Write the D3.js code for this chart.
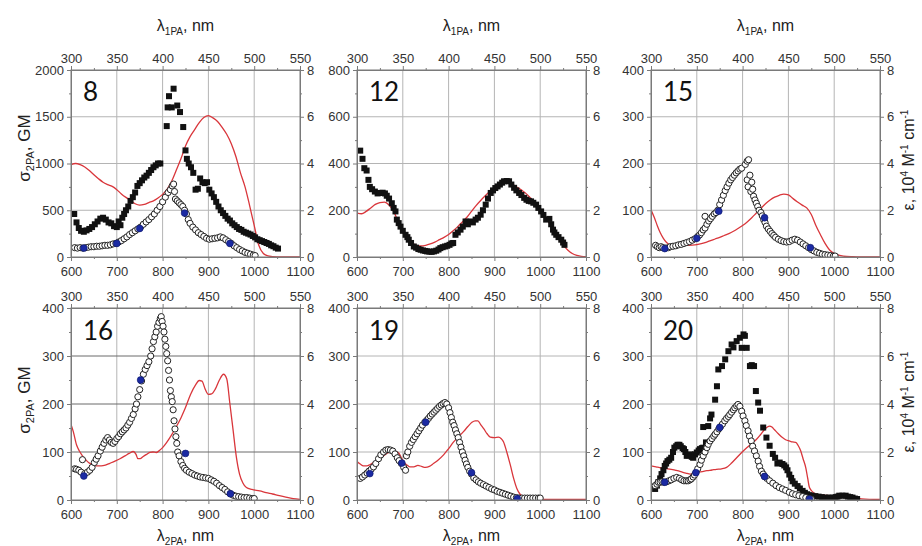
<!DOCTYPE html>
<html>
<head>
<meta charset="utf-8">
<script src="https://cdn.jsdelivr.net/npm/d3@7/dist/d3.min.js"></script>
<style>
  body { margin: 0; background: #fff; }
  text { font-family: "Liberation Sans", Arial, sans-serif; }
</style>
</head>
<body>
<svg id="chart" width="922" height="546"></svg>
<script>
// x: lambda 2PA (nm); squares / circles / blue: sigma 2PA (GM); abs: epsilon (10^4 M-1 cm-1)
var xTicks = [600, 700, 800, 900, 1000, 1100];
var xTopTicks = [300, 350, 400, 450, 500, 550];
var yRightTicks = [0, 2, 4, 6, 8];
var labels = ["8", "12", "15", "16", "19", "20"];
var yMaxes = [2000, 800, 400, 400, 400, 400];

var abs8 = [[600,3.95],[610,4.0],[620,3.95],[630,3.85],[640,3.7],[650,3.52],[660,3.35],[670,3.2],[680,3.1],[690,3.02],[700,2.88],[710,2.7],[720,2.55],[730,2.42],[740,2.28],[750,2.22],[760,2.25],[770,2.33],[780,2.4],[790,2.52],[800,2.68],[810,2.9],[820,3.25],[830,3.72],[840,4.2],[850,4.75],[860,5.15],[870,5.45],[880,5.75],[890,5.97],[900,6.05],[910,5.95],[920,5.8],[930,5.55],[940,5.25],[950,4.85],[960,4.3],[970,3.6],[980,3.0],[990,2.2],[1000,1.35],[1010,0.5],[1020,0.15],[1030,0.05],[1050,0],[1100,0]];
var sq8 = [[607,460],[612,370],[617,310],[622,280],[628,270],[634,285],[640,300],[646,320],[652,350],[658,380],[664,410],[670,420],[676,400],[682,370],[688,360],[694,330],[700,320],[704,380],[708,340],[712,420],[716,460],[720,500],[725,540],[730,600],[735,640],[740,690],[745,760],[750,790],[755,820],[760,850],[765,870],[770,900],[775,930],[780,960],[785,980],[790,1000],[795,1000],[809,1400],[811,1600],[814,1720],[820,1600],[824,1800],[832,1620],[838,1550],[845,1390],[850,1140],[853,1050],[857,1000],[862,960],[867,900],[872,720],[877,730],[882,840],[887,800],[892,790],[897,800],[902,720],[907,680],[912,640],[917,590],[922,540],[927,500],[932,470],[937,440],[942,410],[947,390],[952,360],[957,340],[962,320],[967,300],[972,290],[977,270],[982,260],[987,250],[992,240],[997,225],[1002,210],[1007,190],[1012,180],[1017,170],[1022,160],[1027,150],[1032,140],[1037,125],[1042,115],[1047,100],[1052,90]];
var circ8 = [[608,100],[614,95],[620,100],[626,95],[632,100],[638,105],[644,110],[650,110],[656,115],[662,115],[668,120],[674,125],[680,125],[686,130],[692,140],[698,145],[704,160],[710,175],[716,195],[722,215],[728,240],[734,260],[740,280],[746,300],[752,320],[758,350],[764,375],[770,400],[776,430],[782,460],[788,500],[794,540],[800,590],[806,640],[812,690],[817,720],[821,760],[824,780],[826,700],[828,620],[832,600],[836,580],[840,560],[844,540],[848,500],[852,460],[856,400],[860,360],[866,320],[872,290],[878,260],[884,240],[890,220],[896,200],[902,190],[908,195],[914,200],[920,205],[926,215],[932,205],[938,185],[944,165],[950,145],[956,120],[962,100],[968,80],[974,65],[980,50],[986,40],[992,30],[998,20],[1002,15]];
var blue8 = [[628,95],[700,145],[750,305],[848,470],[947,145]];

var abs12 = [[600,1.88],[610,1.85],[620,1.95],[630,2.1],[640,2.25],[650,2.33],[660,2.35],[670,2.22],[680,1.95],[690,1.5],[700,1.05],[710,0.78],[720,0.6],[730,0.5],[740,0.47],[750,0.5],[760,0.56],[770,0.64],[780,0.74],[790,0.84],[800,0.96],[810,1.12],[820,1.3],[830,1.5],[840,1.7],[850,1.95],[860,2.2],[870,2.42],[880,2.62],[890,2.8],[900,2.95],[910,3.08],[920,3.17],[930,3.18],[940,3.1],[950,2.98],[960,2.85],[970,2.7],[980,2.5],[990,2.3],[1000,2.05],[1010,1.75],[1020,1.45],[1030,1.1],[1040,0.78],[1050,0.52],[1060,0.3],[1070,0.15],[1080,0.07],[1090,0.03],[1100,0.02]];
var sq12 = [[607,455],[612,420],[616,380],[621,370],[625,330],[628,300],[633,290],[639,280],[645,272],[650,274],[656,275],[661,272],[665,262],[670,250],[676,230],[680,210],[684,195],[687,160],[691,145],[695,130],[700,112],[706,95],[710,85],[713,74],[718,60],[724,45],[729,40],[734,34],[739,31],[744,28],[749,26],[753,24],[758,23],[763,22],[768,24],[773,27],[778,32],[782,38],[787,42],[792,45],[797,48],[802,52],[806,58],[810,60],[815,95],[820,105],[826,117],[831,130],[837,152],[842,140],[848,152],[853,148],[859,160],[864,168],[870,181],[875,200],[881,224],[886,250],[892,274],[897,285],[902,295],[907,302],[912,310],[917,318],[921,324],[927,325],[932,324],[937,310],[943,296],[948,285],[954,274],[959,265],[965,253],[970,245],[975,240],[980,238],[985,232],[991,224],[996,210],[1002,195],[1007,180],[1013,160],[1020,163],[1024,140],[1028,117],[1031,105],[1035,95],[1040,85],[1046,74],[1050,62],[1053,52]];

var abs15 = [[600,2.02],[607,1.7],[614,1.33],[620,1.05],[627,0.8],[634,0.62],[642,0.52],[650,0.48],[660,0.48],[670,0.49],[680,0.5],[690,0.51],[700,0.53],[710,0.57],[720,0.63],[730,0.7],[740,0.77],[750,0.84],[760,0.92],[770,1.0],[780,1.1],[790,1.22],[800,1.35],[810,1.5],[820,1.68],[830,1.88],[840,2.08],[850,2.28],[860,2.44],[870,2.56],[880,2.64],[890,2.69],[900,2.66],[910,2.5],[920,2.35],[930,2.22],[940,2.1],[950,1.82],[960,1.35],[970,0.95],[980,0.58],[990,0.3],[1000,0.15],[1010,0.08],[1020,0.04],[1040,0.01],[1060,0],[1100,0]];
var circ15 = [[610,25],[614,22],[618,20],[622,22],[626,20],[632,19],[638,20],[642,22],[648,23],[654,24],[660,26],[666,27],[672,29],[678,31],[684,33],[690,36],[696,39],[702,44],[706,47],[710,52],[714,58],[718,62],[718,87],[722,70],[726,77],[730,82],[734,87],[738,92],[742,95],[746,100],[750,112],[754,122],[758,132],[762,142],[766,150],[770,158],[774,165],[778,170],[782,175],[786,180],[790,184],[794,188],[798,190],[806,198],[810,205],[813,208],[810,165],[812,150],[816,175],[820,160],[818,140],[822,145],[824,130],[827,122],[830,115],[833,108],[836,100],[840,95],[843,88],[846,80],[849,74],[852,66],[856,60],[860,55],[864,50],[868,46],[872,42],[878,38],[884,35],[890,33],[896,32],[902,33],[908,36],[914,38],[920,36],[926,32],[932,28],[938,24],[944,20],[950,16],[956,13],[962,10],[968,8],[974,6],[980,5],[986,4],[992,3],[998,2],[1002,2]];
var blue15 = [[630,18],[700,40],[748,98],[848,84],[948,20]];

var abs16 = [[600,3.15],[605,2.85],[612,2.3],[618,2.05],[625,1.84],[632,1.68],[639,1.55],[648,1.47],[657,1.42],[666,1.42],[675,1.45],[685,1.53],[696,1.62],[707,1.72],[718,1.84],[727,1.94],[736,2.02],[742,1.9],[746,1.72],[751,1.72],[757,1.8],[765,1.9],[772,1.98],[779,2.0],[786,1.98],[793,2.06],[800,2.18],[809,2.4],[818,2.66],[829,3.02],[840,3.42],[850,3.85],[861,4.4],[872,4.8],[880,4.98],[886,4.95],[893,4.62],[900,4.4],[907,4.42],[915,4.62],[924,5.0],[933,5.24],[940,5.05],[947,4.0],[954,2.9],[961,1.8],[968,1.08],[975,0.72],[983,0.52],[995,0.44],[1012,0.38],[1026,0.31],[1040,0.25],[1055,0.18],[1069,0.12],[1085,0.06],[1100,0.03]];
var circ16 = [[608,65],[612,64],[617,62],[622,58],[625,84],[630,55],[636,58],[641,62],[646,68],[651,78],[655,85],[659,92],[664,102],[668,110],[672,118],[676,125],[680,130],[684,125],[688,120],[692,118],[696,122],[700,128],[704,132],[708,138],[712,142],[716,146],[720,150],[724,156],[728,162],[732,170],[736,178],[740,190],[743,200],[746,215],[750,230],[754,248],[758,262],[762,272],[766,280],[770,288],[774,300],[777,315],[780,330],[783,340],[786,350],[789,362],[792,370],[795,378],[797,382],[799,372],[801,362],[803,350],[805,335],[807,320],[809,305],[811,290],[813,270],[815,250],[817,228],[819,215],[821,205],[823,188],[825,165],[827,148],[829,132],[831,118],[833,100],[836,92],[840,80],[844,72],[848,66],[852,62],[858,58],[864,55],[870,52],[876,50],[882,48],[888,47],[894,46],[900,45],[906,42],[912,39],[918,35],[924,30],[930,26],[936,22],[942,17],[948,13],[954,10],[960,8],[966,7],[972,6],[978,5],[984,5],[990,4],[996,3],[1000,3]];
var blue16 = [[628,50],[752,250],[850,97],[948,13]];

var abs19 = [[600,1.6],[607,1.5],[614,1.42],[621,1.42],[629,1.48],[636,1.56],[644,1.64],[651,1.72],[658,1.84],[665,1.94],[672,2.0],[680,2.04],[686,2.02],[691,1.96],[697,1.76],[702,1.58],[709,1.46],[716,1.38],[724,1.38],[733,1.44],[741,1.4],[749,1.36],[758,1.4],[767,1.52],[778,1.68],[789,1.88],[800,2.14],[811,2.42],[822,2.64],[833,2.86],[842,3.06],[851,3.24],[858,3.3],[864,3.3],[870,3.14],[877,2.96],[884,2.76],[891,2.62],[900,2.6],[909,2.62],[915,2.55],[920,2.42],[927,2.0],[935,1.44],[942,0.9],[949,0.48],[956,0.24],[964,0.12],[975,0.06],[990,0.04],[1020,0.03],[1100,0.03]];
var circ19 = [[607,45],[612,48],[617,52],[622,56],[626,60],[631,64],[636,69],[641,76],[647,86],[652,94],[658,100],[663,104],[668,105],[673,104],[678,102],[683,96],[688,88],[692,82],[697,76],[702,68],[706,62],[708,92],[711,100],[715,112],[719,120],[723,126],[727,132],[731,138],[735,144],[739,150],[743,156],[748,162],[752,166],[756,170],[760,175],[764,179],[768,183],[772,187],[776,191],[780,195],[784,198],[788,201],[792,203],[796,200],[800,192],[803,182],[806,172],[809,162],[812,155],[815,146],[818,138],[821,130],[824,120],[827,110],[830,100],[833,92],[836,83],[839,75],[842,68],[846,60],[850,54],[855,46],[860,42],[865,38],[870,35],[876,32],[882,29],[888,26],[894,23],[900,21],[906,18],[912,16],[918,14],[924,12],[930,10],[936,8],[942,6],[948,5],[954,4],[960,4],[966,4],[972,4],[978,4],[984,4],[990,4],[996,4],[1000,4]];
var blue19 = [[628,55],[698,77],[750,162],[850,57],[950,3]];

var abs20 = [[600,1.42],[611,1.38],[622,1.34],[633,1.31],[644,1.28],[655,1.23],[665,1.18],[676,1.12],[686,1.08],[693,1.1],[700,1.14],[711,1.18],[722,1.22],[733,1.25],[743,1.28],[754,1.3],[765,1.36],[776,1.54],[787,1.76],[798,1.98],[809,2.18],[820,2.36],[830,2.52],[839,2.72],[848,2.94],[854,3.04],[859,3.08],[864,3.04],[869,2.94],[878,2.76],[887,2.6],[895,2.5],[902,2.46],[909,2.42],[916,2.4],[921,2.28],[927,2.04],[932,1.72],[938,1.34],[942,0.92],[946,0.52],[953,0.34],[960,0.24],[975,0.2],[989,0.18],[1010,0.14],[1032,0.1],[1060,0.05],[1100,0.02]];
var sq20 = [[609,23],[613,30],[616,37],[620,45],[623,54],[627,62],[630,71],[633,76],[636,81],[640,84],[644,88],[648,100],[651,109],[655,112],[658,115],[662,115],[665,112],[669,108],[672,106],[675,100],[678,92],[682,93],[686,95],[689,90],[692,88],[696,95],[700,99],[704,103],[707,106],[711,108],[714,109],[714,152],[720,120],[725,154],[729,170],[732,178],[740,209],[744,237],[747,272],[755,279],[762,293],[769,310],[776,324],[780,318],[787,331],[794,338],[798,317],[802,345],[805,342],[809,317],[816,279],[820,281],[825,279],[829,227],[834,203],[838,186],[845,151],[852,130],[859,113],[866,96],[871,88],[876,76],[881,78],[887,75],[891,72],[895,68],[898,62],[902,53],[906,46],[909,39],[914,34],[920,29],[925,24],[931,19],[936,15],[941,12],[946,10],[952,9],[959,8],[966,7],[973,6],[981,5],[988,5],[996,5],[1003,6],[1007,7],[1011,9],[1018,9],[1025,9],[1030,7],[1035,6],[1040,5],[1045,3],[1050,2]];
var circ20 = [[609,30],[613,33],[616,37],[620,37],[624,38],[628,37],[634,38],[639,40],[644,42],[650,45],[656,47],[662,45],[667,42],[672,40],[677,40],[681,40],[685,42],[688,44],[692,48],[695,52],[698,57],[702,65],[707,74],[710,83],[714,92],[718,100],[722,109],[725,116],[729,123],[733,128],[737,133],[740,137],[744,142],[748,148],[752,153],[756,158],[761,165],[765,170],[769,174],[772,178],[776,183],[780,188],[783,192],[787,196],[790,199],[794,195],[798,185],[801,175],[805,165],[808,155],[812,144],[815,133],[819,123],[822,112],[826,102],[830,92],[834,81],[837,70],[841,60],[845,54],[848,49],[853,45],[859,40],[866,35],[873,30],[880,26],[887,23],[894,20],[902,16],[909,13],[916,11],[923,9],[931,7],[938,5],[945,3],[950,2]];
var blue20 = [[630,37],[698,57],[750,151],[848,49],[946,2]];

var absSets = [abs8, abs12, abs15, abs16, abs19, abs20];
var sqSets = [sq8, sq12, [], [], [], sq20];
var circSets = [circ8, [], circ15, circ16, circ19, circ20];
var blueSets = [blue8, [], blue15, blue16, blue19, blue20];

// layout
var colX = [71, 357, 651], colW = 229;
var rowY = [70, 308], rowH = [187, 192];

var svg = d3.select("#chart");
var fmt = d3.format("d");

labels.forEach(function(lab, i) {
    var col = i % 3, row = Math.floor(i / 3);
    var w = colW, h = rowH[row];
    var g = svg.append("g").attr("transform", "translate(" + colX[col] + "," + rowY[row] + ")");

    var x = d3.scaleLinear().domain([600, 1100]).range([0, w]);
    var xTop = d3.scaleLinear().domain([300, 550]).range([0, w]);
    var y = d3.scaleLinear().domain([0, yMaxes[i]]).range([h, 0]);
    var yR = d3.scaleLinear().domain([0, 8]).range([h, 0]);
    var step = yMaxes[i] / 4;
    var yTicks = d3.range(0, yMaxes[i] + 1, step);

    // grid
    g.selectAll(".vg").data([700, 800, 900, 1000]).enter().append("line")
        .attr("x1", x).attr("x2", x).attr("y1", 0).attr("y2", h)
        .attr("stroke", "#b4b4b4").attr("stroke-width", 1);
    g.selectAll(".hg").data(yTicks.slice(1, -1)).enter().append("line")
        .attr("y1", y).attr("y2", y).attr("x1", 0).attr("x2", w)
        .attr("stroke", i == 3 ? "#6a6a6a" : "#b4b4b4").attr("stroke-width", 1);

    // clip
    var cid = "clip" + i;
    g.append("clipPath").attr("id", cid).append("rect").attr("width", w).attr("height", h);
    var plot = g.append("g").attr("clip-path", "url(#" + cid + ")");

    var line = d3.line().x(function(d) { return x(d[0]); }).y(function(d) { return yR(d[1]); })
        .curve(d3.curveMonotoneX);
    plot.append("path").datum(absSets[i]).attr("d", line)
        .attr("fill", "none").attr("stroke", "#d9363b").attr("stroke-width", 1.3);

    plot.selectAll(".sq").data(sqSets[i]).enter().append("rect")
        .attr("x", function(d) { return x(d[0]) - 3; })
        .attr("y", function(d) { return y(d[1]) - 3; })
        .attr("width", 6).attr("height", 6).attr("fill", "#111");

    plot.selectAll(".ci").data(circSets[i]).enter().append("circle")
        .attr("cx", function(d) { return x(d[0]); })
        .attr("cy", function(d) { return y(d[1]); })
        .attr("r", 3.1).attr("fill", "#fff").attr("stroke", "#222").attr("stroke-width", 1);

    plot.selectAll(".bl").data(blueSets[i]).enter().append("circle")
        .attr("cx", function(d) { return x(d[0]); })
        .attr("cy", function(d) { return y(d[1]); })
        .attr("r", 3.4).attr("fill", "#1b2aa3").attr("stroke", "#0c176b").attr("stroke-width", 0.6);

    // axes
    function style(sel) {
        sel.selectAll("path").attr("stroke", "#7a7a7a");
        sel.selectAll("line").attr("stroke", "#7a7a7a");
        sel.selectAll("text").attr("fill", "#333").style("font-size", "13px")
            .style("font-family", '"Liberation Sans", Arial, sans-serif');
    }
    var ax = g.append("g").attr("transform", "translate(0," + h + ")")
        .call(d3.axisBottom(x).tickValues(xTicks).tickFormat(fmt).tickSize(4).tickSizeOuter(0));
    ax.selectAll("text").attr("y", 10);
    style(ax);
    g.append("g").attr("transform", "translate(0," + h + ")")
        .call(d3.axisBottom(x).tickValues([650, 750, 850, 950, 1050]).tickSize(2).tickFormat("").tickSizeOuter(0))
        .call(style);

    g.append("g").call(d3.axisTop(xTop).tickValues(xTopTicks).tickFormat(fmt).tickSize(4).tickSizeOuter(0)).call(style);
    g.append("g").call(d3.axisTop(xTop).tickValues([325, 375, 425, 475, 525]).tickSize(2).tickFormat("").tickSizeOuter(0)).call(style);

    g.append("g").call(d3.axisLeft(y).tickValues(yTicks).tickFormat(fmt).tickSize(4).tickSizeOuter(0)).call(style);
    g.append("g").call(d3.axisLeft(y).tickValues(yTicks.slice(0, -1).map(function(v) { return v + step / 2; }))
        .tickSize(2).tickFormat("").tickSizeOuter(0)).call(style);

    g.append("g").attr("transform", "translate(" + w + ",0)")
        .call(d3.axisRight(yR).tickValues(yRightTicks).tickFormat(fmt).tickSize(4).tickSizeOuter(0)).call(style);
    g.append("g").attr("transform", "translate(" + w + ",0)")
        .call(d3.axisRight(yR).tickValues([1, 3, 5, 7]).tickSize(2).tickFormat("").tickSizeOuter(0)).call(style);

    // frame
    g.append("rect").attr("width", w).attr("height", h)
        .attr("fill", "none").attr("stroke", "#7a7a7a").attr("stroke-width", 1);

    // panel number
    g.append("text").attr("x", 12).attr("y", row == 0 ? 31 : 32)
        .style("font-family", "Lato, 'Open Sans', sans-serif").style("font-size", "26px")
        .attr("fill", "#111").text(lab);
});

// axis titles
function lambdaTitle(xc, yc, sub) {
    var t = svg.append("text").attr("x", xc).attr("y", yc).attr("text-anchor", "middle")
        .style("font-size", "16px").attr("fill", "#222");
    t.append("tspan").text("\u03bb");
    t.append("tspan").attr("dy", 4).style("font-size", "10px").text(sub);
    t.append("tspan").attr("dy", -4).text(", nm");
}
for (var c = 0; c < 3; c++) {
    lambdaTitle(colX[c] + colW / 2, 31, "1PA");
    lambdaTitle(colX[c] + colW / 2, 541, "2PA");
}

function sigmaTitle(yc) {
    var t = svg.append("text").attr("transform", "translate(30," + yc + ") rotate(-90)")
        .attr("text-anchor", "middle").style("font-size", "17px").attr("fill", "#222");
    t.append("tspan").text("\u03c3");
    t.append("tspan").attr("dy", 4).style("font-size", "11px").text("2PA");
    t.append("tspan").attr("dy", -4).text(", GM");
}
sigmaTitle(148);
sigmaTitle(400);

function epsTitle(yc) {
    var t = svg.append("text").attr("transform", "translate(914," + yc + ") rotate(-90)")
        .attr("text-anchor", "middle").style("font-size", "16px").attr("fill", "#222");
    t.append("tspan").text("\u03b5, 10");
    t.append("tspan").attr("dy", -6).style("font-size", "10px").text("4");
    t.append("tspan").attr("dy", 6).text(" M");
    t.append("tspan").attr("dy", -6).style("font-size", "10px").text("-1");
    t.append("tspan").attr("dy", 6).text(" cm");
    t.append("tspan").attr("dy", -6).style("font-size", "10px").text("-1");
}
epsTitle(160);
epsTitle(402);
</script>
</body>
</html>
